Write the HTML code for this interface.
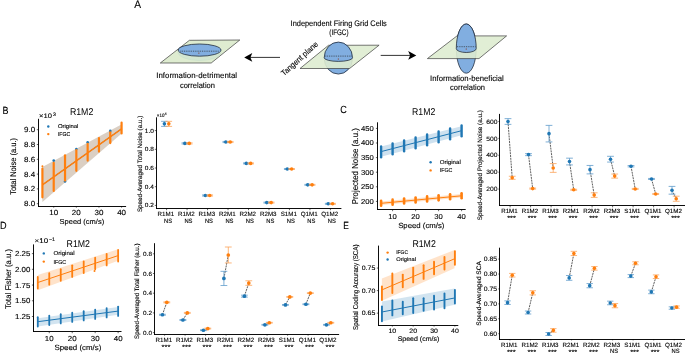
<!DOCTYPE html>
<html><head><meta charset="utf-8"><style>
html,body{margin:0;padding:0;background:#fff;overflow:hidden;}
svg{display:block;will-change:transform;text-rendering:geometricPrecision;}
text{stroke:#000;stroke-width:0.12px;font-family:"Liberation Sans", sans-serif;}
</style></head><body>
<svg width="685" height="353" viewBox="0 0 685 353">
<rect width="685" height="353" fill="#fff"/>
<text x="134.20" y="7.60" font-size="10.80" textLength="6.80" lengthAdjust="spacingAndGlyphs">A</text>
<polygon points="189.40,40.30 239.80,40.00 211.20,63.00 160.30,63.00" fill="#deecd0" stroke="#3c3c3c" stroke-width="0.7" stroke-linejoin="round"/>
<ellipse cx="199.6" cy="52.2" rx="21.5" ry="8.3" fill="#d3e6d1" stroke="#c5dcc8" stroke-width="0.5"/>
<ellipse cx="199.6" cy="50.1" rx="21.4" ry="6.1" fill="#81aee0" stroke="#1c2635" stroke-width="0.75"/>
<line x1="180.40" y1="51.20" x2="218.80" y2="51.20" stroke="#222" stroke-width="0.7" stroke-dasharray="0.9 0.9"/>
<rect x="198.3" y="52.6" width="1.1" height="1.1" fill="#8a4a3a"/>
<ellipse cx="338.35" cy="58.3" rx="14.15" ry="15.75" fill="#81aee0" stroke="#1c2635" stroke-width="0.75"/>
<polygon points="328.50,45.30 379.10,45.20 349.60,68.50 300.00,68.50" fill="#deecd0" fill-opacity="0.9" stroke="#3c3c3c" stroke-width="0.7" stroke-linejoin="round"/>
<path d="M 324.20 57.80 A 14.15 15.75 0 0 1 352.50 57.80 A 14.15 3.6 0 0 1 324.20 57.80 Z" fill="#81aee0" stroke="#1c2635" stroke-width="0.75"/>
<line x1="325.40" y1="56.10" x2="351.40" y2="56.10" stroke="#222" stroke-width="0.7" stroke-dasharray="0.9 0.9"/>
<rect x="337.8" y="58.5" width="1.1" height="1.1" fill="#8a4a3a"/>
<ellipse cx="466.25" cy="48.6" rx="9.95" ry="24.6" fill="#81aee0" stroke="#1c2635" stroke-width="0.75"/>
<polygon points="457.00,35.90 506.60,35.90 479.00,58.60 427.40,58.60" fill="#deecd0" fill-opacity="0.9" stroke="#3c3c3c" stroke-width="0.7" stroke-linejoin="round"/>
<path d="M 456.30 48.60 A 9.95 24.6 0 0 1 476.20 48.60 A 9.95 3.9 0 0 1 456.30 48.60 Z" fill="#81aee0" stroke="#1c2635" stroke-width="0.75"/>
<line x1="457.00" y1="46.70" x2="475.50" y2="46.70" stroke="#222" stroke-width="0.7" stroke-dasharray="0.9 0.9"/>
<rect x="465.7" y="48.5" width="1.1" height="1.1" fill="#8a4a3a"/>
<line x1="250.00" y1="57.40" x2="280.00" y2="57.40" stroke="#111" stroke-width="0.85"/>
<polygon points="244.20,57.40 252.30,53.10 250.40,57.40 252.30,61.80" fill="#000"/>
<line x1="380.70" y1="55.40" x2="410.00" y2="55.40" stroke="#111" stroke-width="0.85"/>
<polygon points="416.30,55.40 408.20,51.10 410.10,55.40 408.20,59.80" fill="#000"/>
<text x="290.60" y="26.10" font-size="8.00" textLength="96.20" lengthAdjust="spacingAndGlyphs">Independent Firing Grid Cells</text>
<text x="338.90" y="34.90" font-size="8.00" text-anchor="middle" textLength="19.20" lengthAdjust="spacingAndGlyphs">(IFGC)</text>
<text x="156.30" y="77.80" font-size="8.00" textLength="80.80" lengthAdjust="spacingAndGlyphs">Information-detrimental</text>
<text x="197.40" y="87.60" font-size="8.00" text-anchor="middle" textLength="35.00" lengthAdjust="spacingAndGlyphs">correlation</text>
<text x="430.10" y="80.80" font-size="8.00" textLength="73.70" lengthAdjust="spacingAndGlyphs">Information-beneficial</text>
<text x="467.50" y="89.80" font-size="8.00" text-anchor="middle" textLength="35.00" lengthAdjust="spacingAndGlyphs">correlation</text>
<text x="0" y="0" font-size="8.00" textLength="46.50" lengthAdjust="spacingAndGlyphs" transform="translate(284.00,76.20) rotate(-42)">Tangent plane</text>
<text x="2.40" y="113.50" font-size="10.40" textLength="6.00" lengthAdjust="spacingAndGlyphs">B</text>
<polygon points="42.40,167.00 121.90,124.20 121.90,133.20 42.40,202.00" fill="#1f77b4" fill-opacity="0.2"/>
<polygon points="42.40,167.00 121.90,124.20 121.90,133.20 42.40,202.00" fill="#ff7f0e" fill-opacity="0.2"/>
<circle cx="53.72" cy="160.60" r="1.30" fill="#1f77b4"/>
<circle cx="65.03" cy="181.50" r="1.30" fill="#1f77b4"/>
<circle cx="76.34" cy="149.00" r="1.30" fill="#1f77b4"/>
<circle cx="87.65" cy="142.30" r="1.30" fill="#1f77b4"/>
<circle cx="110.27" cy="130.90" r="1.30" fill="#1f77b4"/>
<line x1="42.40" y1="184.90" x2="121.90" y2="128.60" stroke="#1f77b4" stroke-width="1.0"/>
<line x1="42.41" y1="168.70" x2="42.41" y2="197.30" stroke="#ff7f0e" stroke-width="2.2" stroke-linecap="round"/>
<line x1="53.72" y1="162.80" x2="53.72" y2="190.90" stroke="#ff7f0e" stroke-width="2.2" stroke-linecap="round"/>
<line x1="65.03" y1="155.30" x2="65.03" y2="180.60" stroke="#ff7f0e" stroke-width="2.2" stroke-linecap="round"/>
<line x1="76.34" y1="150.00" x2="76.34" y2="170.80" stroke="#ff7f0e" stroke-width="2.2" stroke-linecap="round"/>
<line x1="87.65" y1="143.90" x2="87.65" y2="160.60" stroke="#ff7f0e" stroke-width="2.2" stroke-linecap="round"/>
<line x1="98.96" y1="138.00" x2="98.96" y2="151.60" stroke="#ff7f0e" stroke-width="2.2" stroke-linecap="round"/>
<line x1="110.27" y1="132.30" x2="110.27" y2="143.10" stroke="#ff7f0e" stroke-width="2.2" stroke-linecap="round"/>
<line x1="121.58" y1="122.70" x2="121.58" y2="133.40" stroke="#ff7f0e" stroke-width="2.2" stroke-linecap="round"/>
<circle cx="42.41" cy="166.20" r="1.00" fill="#ff7f0e"/>
<circle cx="110.27" cy="142.30" r="1.00" fill="#ff7f0e"/>
<line x1="42.40" y1="184.90" x2="121.90" y2="128.60" stroke="#ff7f0e" stroke-width="1.4"/>
<line x1="38.50" y1="118.80" x2="38.50" y2="207.00" stroke="#000" stroke-width="0.95"/>
<line x1="38.00" y1="206.50" x2="126.10" y2="206.50" stroke="#000" stroke-width="0.95"/>
<line x1="36.80" y1="203.70" x2="38.40" y2="203.70" stroke="#000" stroke-width="0.6"/>
<text x="35.10" y="206.22" font-size="7.42" text-anchor="end" textLength="11.13" lengthAdjust="spacingAndGlyphs">8.0</text>
<line x1="36.80" y1="188.90" x2="38.40" y2="188.90" stroke="#000" stroke-width="0.6"/>
<text x="35.10" y="191.42" font-size="7.42" text-anchor="end" textLength="11.13" lengthAdjust="spacingAndGlyphs">8.2</text>
<line x1="36.80" y1="174.10" x2="38.40" y2="174.10" stroke="#000" stroke-width="0.6"/>
<text x="35.10" y="176.62" font-size="7.42" text-anchor="end" textLength="11.13" lengthAdjust="spacingAndGlyphs">8.4</text>
<line x1="36.80" y1="159.30" x2="38.40" y2="159.30" stroke="#000" stroke-width="0.6"/>
<text x="35.10" y="161.82" font-size="7.42" text-anchor="end" textLength="11.13" lengthAdjust="spacingAndGlyphs">8.6</text>
<line x1="36.80" y1="144.50" x2="38.40" y2="144.50" stroke="#000" stroke-width="0.6"/>
<text x="35.10" y="147.02" font-size="7.42" text-anchor="end" textLength="11.13" lengthAdjust="spacingAndGlyphs">8.8</text>
<line x1="36.80" y1="129.70" x2="38.40" y2="129.70" stroke="#000" stroke-width="0.6"/>
<text x="35.10" y="132.22" font-size="7.42" text-anchor="end" textLength="11.13" lengthAdjust="spacingAndGlyphs">9.0</text>
<line x1="53.72" y1="206.10" x2="53.72" y2="207.70" stroke="#000" stroke-width="0.6"/>
<text x="53.72" y="214.80" font-size="7.42" text-anchor="middle" textLength="8.91" lengthAdjust="spacingAndGlyphs">10</text>
<line x1="76.34" y1="206.10" x2="76.34" y2="207.70" stroke="#000" stroke-width="0.6"/>
<text x="76.34" y="214.80" font-size="7.42" text-anchor="middle" textLength="8.91" lengthAdjust="spacingAndGlyphs">20</text>
<line x1="98.96" y1="206.10" x2="98.96" y2="207.70" stroke="#000" stroke-width="0.6"/>
<text x="98.96" y="214.80" font-size="7.42" text-anchor="middle" textLength="8.91" lengthAdjust="spacingAndGlyphs">30</text>
<line x1="121.58" y1="206.10" x2="121.58" y2="207.70" stroke="#000" stroke-width="0.6"/>
<text x="121.58" y="214.80" font-size="7.42" text-anchor="middle" textLength="8.91" lengthAdjust="spacingAndGlyphs">40</text>
<text x="81.90" y="224.00" font-size="7.16" text-anchor="middle" textLength="44.65" lengthAdjust="spacingAndGlyphs">Speed (cm/s)</text>
<text x="0" y="0" font-size="8.20" text-anchor="middle" textLength="56.60" lengthAdjust="spacingAndGlyphs" transform="translate(15.60,166.40) rotate(-90)">Total Noise (a.u.)</text>
<text x="81.60" y="115.00" font-size="9.90" text-anchor="middle" textLength="23.40" lengthAdjust="spacingAndGlyphs" style="stroke:none">R1M2</text>
<text x="39.00" y="117.70" font-size="6.57" textLength="12.90" lengthAdjust="spacingAndGlyphs">×10</text>
<text x="53.00" y="115.60" font-size="4.88" textLength="2.93" lengthAdjust="spacingAndGlyphs">3</text>
<circle cx="48.30" cy="126.50" r="1.20" fill="#1f77b4"/>
<text x="57.90" y="128.39" font-size="5.57" textLength="20.54" lengthAdjust="spacingAndGlyphs">Original</text>
<circle cx="48.30" cy="134.10" r="1.20" fill="#ff7f0e"/>
<text x="57.90" y="135.99" font-size="5.57" textLength="12.30" lengthAdjust="spacingAndGlyphs">IFGC</text>
<line x1="164.40" y1="121.34" x2="164.40" y2="126.39" stroke="#5f9ccb" stroke-width="0.8"/>
<line x1="161.10" y1="121.34" x2="167.70" y2="121.34" stroke="#5f9ccb" stroke-width="0.8"/>
<line x1="161.10" y1="126.39" x2="167.70" y2="126.39" stroke="#5f9ccb" stroke-width="0.8"/>
<circle cx="164.40" cy="123.87" r="1.80" fill="#1f77b4"/>
<line x1="168.80" y1="121.34" x2="168.80" y2="126.39" stroke="#fba35a" stroke-width="0.8"/>
<line x1="165.50" y1="121.34" x2="172.10" y2="121.34" stroke="#fba35a" stroke-width="0.8"/>
<line x1="165.50" y1="126.39" x2="172.10" y2="126.39" stroke="#fba35a" stroke-width="0.8"/>
<circle cx="168.80" cy="123.87" r="1.80" fill="#ff7f0e"/>
<line x1="184.88" y1="142.85" x2="184.88" y2="143.97" stroke="#5f9ccb" stroke-width="0.8"/>
<line x1="181.57" y1="142.85" x2="188.18" y2="142.85" stroke="#5f9ccb" stroke-width="0.8"/>
<line x1="181.57" y1="143.97" x2="188.18" y2="143.97" stroke="#5f9ccb" stroke-width="0.8"/>
<circle cx="184.88" cy="143.41" r="1.80" fill="#1f77b4"/>
<line x1="189.27" y1="142.85" x2="189.27" y2="143.97" stroke="#fba35a" stroke-width="0.8"/>
<line x1="185.97" y1="142.85" x2="192.57" y2="142.85" stroke="#fba35a" stroke-width="0.8"/>
<line x1="185.97" y1="143.97" x2="192.57" y2="143.97" stroke="#fba35a" stroke-width="0.8"/>
<circle cx="189.27" cy="143.41" r="1.80" fill="#ff7f0e"/>
<line x1="205.35" y1="194.93" x2="205.35" y2="196.05" stroke="#5f9ccb" stroke-width="0.8"/>
<line x1="202.05" y1="194.93" x2="208.65" y2="194.93" stroke="#5f9ccb" stroke-width="0.8"/>
<line x1="202.05" y1="196.05" x2="208.65" y2="196.05" stroke="#5f9ccb" stroke-width="0.8"/>
<circle cx="205.35" cy="195.49" r="1.80" fill="#1f77b4"/>
<line x1="209.75" y1="194.93" x2="209.75" y2="196.05" stroke="#fba35a" stroke-width="0.8"/>
<line x1="206.45" y1="194.93" x2="213.05" y2="194.93" stroke="#fba35a" stroke-width="0.8"/>
<line x1="206.45" y1="196.05" x2="213.05" y2="196.05" stroke="#fba35a" stroke-width="0.8"/>
<circle cx="209.75" cy="195.49" r="1.80" fill="#ff7f0e"/>
<line x1="225.83" y1="141.45" x2="225.83" y2="142.57" stroke="#5f9ccb" stroke-width="0.8"/>
<line x1="222.53" y1="141.45" x2="229.13" y2="141.45" stroke="#5f9ccb" stroke-width="0.8"/>
<line x1="222.53" y1="142.57" x2="229.13" y2="142.57" stroke="#5f9ccb" stroke-width="0.8"/>
<circle cx="225.83" cy="142.01" r="1.80" fill="#1f77b4"/>
<line x1="230.22" y1="141.45" x2="230.22" y2="142.57" stroke="#fba35a" stroke-width="0.8"/>
<line x1="226.92" y1="141.45" x2="233.53" y2="141.45" stroke="#fba35a" stroke-width="0.8"/>
<line x1="226.92" y1="142.57" x2="233.53" y2="142.57" stroke="#fba35a" stroke-width="0.8"/>
<circle cx="230.22" cy="142.01" r="1.80" fill="#ff7f0e"/>
<line x1="246.30" y1="162.95" x2="246.30" y2="163.89" stroke="#5f9ccb" stroke-width="0.8"/>
<line x1="243.00" y1="162.95" x2="249.60" y2="162.95" stroke="#5f9ccb" stroke-width="0.8"/>
<line x1="243.00" y1="163.89" x2="249.60" y2="163.89" stroke="#5f9ccb" stroke-width="0.8"/>
<circle cx="246.30" cy="163.42" r="1.80" fill="#1f77b4"/>
<line x1="250.70" y1="162.95" x2="250.70" y2="163.89" stroke="#fba35a" stroke-width="0.8"/>
<line x1="247.40" y1="162.95" x2="254.00" y2="162.95" stroke="#fba35a" stroke-width="0.8"/>
<line x1="247.40" y1="163.89" x2="254.00" y2="163.89" stroke="#fba35a" stroke-width="0.8"/>
<circle cx="250.70" cy="163.42" r="1.80" fill="#ff7f0e"/>
<line x1="266.78" y1="202.13" x2="266.78" y2="203.06" stroke="#5f9ccb" stroke-width="0.8"/>
<line x1="263.48" y1="202.13" x2="270.08" y2="202.13" stroke="#5f9ccb" stroke-width="0.8"/>
<line x1="263.48" y1="203.06" x2="270.08" y2="203.06" stroke="#5f9ccb" stroke-width="0.8"/>
<circle cx="266.78" cy="202.59" r="1.80" fill="#1f77b4"/>
<line x1="271.18" y1="202.13" x2="271.18" y2="203.06" stroke="#fba35a" stroke-width="0.8"/>
<line x1="267.88" y1="202.13" x2="274.48" y2="202.13" stroke="#fba35a" stroke-width="0.8"/>
<line x1="267.88" y1="203.06" x2="274.48" y2="203.06" stroke="#fba35a" stroke-width="0.8"/>
<circle cx="271.18" cy="202.59" r="1.80" fill="#ff7f0e"/>
<line x1="287.25" y1="168.56" x2="287.25" y2="169.50" stroke="#5f9ccb" stroke-width="0.8"/>
<line x1="283.95" y1="168.56" x2="290.55" y2="168.56" stroke="#5f9ccb" stroke-width="0.8"/>
<line x1="283.95" y1="169.50" x2="290.55" y2="169.50" stroke="#5f9ccb" stroke-width="0.8"/>
<circle cx="287.25" cy="169.03" r="1.80" fill="#1f77b4"/>
<line x1="291.65" y1="168.56" x2="291.65" y2="169.50" stroke="#fba35a" stroke-width="0.8"/>
<line x1="288.35" y1="168.56" x2="294.95" y2="168.56" stroke="#fba35a" stroke-width="0.8"/>
<line x1="288.35" y1="169.50" x2="294.95" y2="169.50" stroke="#fba35a" stroke-width="0.8"/>
<circle cx="291.65" cy="169.03" r="1.80" fill="#ff7f0e"/>
<line x1="307.73" y1="184.36" x2="307.73" y2="185.30" stroke="#5f9ccb" stroke-width="0.8"/>
<line x1="304.43" y1="184.36" x2="311.03" y2="184.36" stroke="#5f9ccb" stroke-width="0.8"/>
<line x1="304.43" y1="185.30" x2="311.03" y2="185.30" stroke="#5f9ccb" stroke-width="0.8"/>
<circle cx="307.73" cy="184.83" r="1.80" fill="#1f77b4"/>
<line x1="312.12" y1="184.36" x2="312.12" y2="185.30" stroke="#fba35a" stroke-width="0.8"/>
<line x1="308.82" y1="184.36" x2="315.43" y2="184.36" stroke="#fba35a" stroke-width="0.8"/>
<line x1="308.82" y1="185.30" x2="315.43" y2="185.30" stroke="#fba35a" stroke-width="0.8"/>
<circle cx="312.12" cy="184.83" r="1.80" fill="#ff7f0e"/>
<line x1="328.20" y1="203.34" x2="328.20" y2="204.28" stroke="#5f9ccb" stroke-width="0.8"/>
<line x1="324.90" y1="203.34" x2="331.50" y2="203.34" stroke="#5f9ccb" stroke-width="0.8"/>
<line x1="324.90" y1="204.28" x2="331.50" y2="204.28" stroke="#5f9ccb" stroke-width="0.8"/>
<circle cx="328.20" cy="203.81" r="1.80" fill="#1f77b4"/>
<line x1="332.60" y1="203.34" x2="332.60" y2="204.28" stroke="#fba35a" stroke-width="0.8"/>
<line x1="329.30" y1="203.34" x2="335.90" y2="203.34" stroke="#fba35a" stroke-width="0.8"/>
<line x1="329.30" y1="204.28" x2="335.90" y2="204.28" stroke="#fba35a" stroke-width="0.8"/>
<circle cx="332.60" cy="203.81" r="1.80" fill="#ff7f0e"/>
<line x1="156.50" y1="117.30" x2="156.50" y2="209.00" stroke="#000" stroke-width="0.95"/>
<line x1="156.00" y1="208.50" x2="341.40" y2="208.50" stroke="#000" stroke-width="0.95"/>
<line x1="154.80" y1="205.40" x2="156.20" y2="205.40" stroke="#000" stroke-width="0.6"/>
<text x="153.90" y="207.45" font-size="6.04" text-anchor="end" textLength="9.07" lengthAdjust="spacingAndGlyphs">0.2</text>
<line x1="154.80" y1="186.70" x2="156.20" y2="186.70" stroke="#000" stroke-width="0.6"/>
<text x="153.90" y="188.75" font-size="6.04" text-anchor="end" textLength="9.07" lengthAdjust="spacingAndGlyphs">0.4</text>
<line x1="154.80" y1="168.00" x2="156.20" y2="168.00" stroke="#000" stroke-width="0.6"/>
<text x="153.90" y="170.05" font-size="6.04" text-anchor="end" textLength="9.07" lengthAdjust="spacingAndGlyphs">0.6</text>
<line x1="154.80" y1="149.30" x2="156.20" y2="149.30" stroke="#000" stroke-width="0.6"/>
<text x="153.90" y="151.35" font-size="6.04" text-anchor="end" textLength="9.07" lengthAdjust="spacingAndGlyphs">0.8</text>
<line x1="154.80" y1="130.60" x2="156.20" y2="130.60" stroke="#000" stroke-width="0.6"/>
<text x="153.90" y="132.65" font-size="6.04" text-anchor="end" textLength="9.07" lengthAdjust="spacingAndGlyphs">1.0</text>
<line x1="166.60" y1="208.80" x2="166.60" y2="210.20" stroke="#000" stroke-width="0.6"/>
<text x="165.90" y="215.70" font-size="6.20" text-anchor="middle" textLength="16.56" lengthAdjust="spacingAndGlyphs">R1M1</text>
<text x="168.00" y="222.63" font-size="6.20" text-anchor="middle" textLength="8.09" lengthAdjust="spacingAndGlyphs">NS</text>
<line x1="187.07" y1="208.80" x2="187.07" y2="210.20" stroke="#000" stroke-width="0.6"/>
<text x="186.38" y="215.70" font-size="6.20" text-anchor="middle" textLength="16.56" lengthAdjust="spacingAndGlyphs">R1M2</text>
<text x="188.47" y="222.63" font-size="6.20" text-anchor="middle" textLength="8.09" lengthAdjust="spacingAndGlyphs">NS</text>
<line x1="207.55" y1="208.80" x2="207.55" y2="210.20" stroke="#000" stroke-width="0.6"/>
<text x="206.85" y="215.70" font-size="6.20" text-anchor="middle" textLength="16.56" lengthAdjust="spacingAndGlyphs">R1M3</text>
<text x="208.95" y="222.63" font-size="6.20" text-anchor="middle" textLength="8.09" lengthAdjust="spacingAndGlyphs">NS</text>
<line x1="228.03" y1="208.80" x2="228.03" y2="210.20" stroke="#000" stroke-width="0.6"/>
<text x="227.33" y="215.70" font-size="6.20" text-anchor="middle" textLength="16.56" lengthAdjust="spacingAndGlyphs">R2M1</text>
<text x="229.43" y="222.63" font-size="6.20" text-anchor="middle" textLength="8.09" lengthAdjust="spacingAndGlyphs">NS</text>
<line x1="248.50" y1="208.80" x2="248.50" y2="210.20" stroke="#000" stroke-width="0.6"/>
<text x="247.80" y="215.70" font-size="6.20" text-anchor="middle" textLength="16.56" lengthAdjust="spacingAndGlyphs">R2M2</text>
<text x="249.90" y="222.63" font-size="6.20" text-anchor="middle" textLength="8.09" lengthAdjust="spacingAndGlyphs">NS</text>
<line x1="268.98" y1="208.80" x2="268.98" y2="210.20" stroke="#000" stroke-width="0.6"/>
<text x="268.28" y="215.70" font-size="6.20" text-anchor="middle" textLength="16.56" lengthAdjust="spacingAndGlyphs">R2M3</text>
<text x="270.38" y="222.63" font-size="6.20" text-anchor="middle" textLength="8.09" lengthAdjust="spacingAndGlyphs">NS</text>
<line x1="289.45" y1="208.80" x2="289.45" y2="210.20" stroke="#000" stroke-width="0.6"/>
<text x="288.75" y="215.70" font-size="6.20" text-anchor="middle" textLength="16.20" lengthAdjust="spacingAndGlyphs">S1M1</text>
<text x="290.85" y="222.63" font-size="6.20" text-anchor="middle" textLength="8.09" lengthAdjust="spacingAndGlyphs">NS</text>
<line x1="309.93" y1="208.80" x2="309.93" y2="210.20" stroke="#000" stroke-width="0.6"/>
<text x="309.23" y="215.70" font-size="6.20" text-anchor="middle" textLength="17.10" lengthAdjust="spacingAndGlyphs">Q1M1</text>
<text x="311.32" y="222.63" font-size="6.20" text-anchor="middle" textLength="8.09" lengthAdjust="spacingAndGlyphs">NS</text>
<line x1="330.40" y1="208.80" x2="330.40" y2="210.20" stroke="#000" stroke-width="0.6"/>
<text x="329.70" y="215.70" font-size="6.20" text-anchor="middle" textLength="17.10" lengthAdjust="spacingAndGlyphs">Q1M2</text>
<text x="331.80" y="222.63" font-size="6.20" text-anchor="middle" textLength="8.09" lengthAdjust="spacingAndGlyphs">NS</text>
<text x="0" y="0" font-size="6.40" text-anchor="middle" textLength="96.40" lengthAdjust="spacingAndGlyphs" transform="translate(142.00,163.90) rotate(-90)">Speed-Averaged Total Noise (a.u.)</text>
<text x="156.80" y="116.80" font-size="4.88" textLength="7.60" lengthAdjust="spacingAndGlyphs">×10</text>
<text x="164.60" y="114.90" font-size="3.60" textLength="2.16" lengthAdjust="spacingAndGlyphs">4</text>
<text x="340.30" y="112.70" font-size="10.40" textLength="6.60" lengthAdjust="spacingAndGlyphs">C</text>
<polygon points="381.10,146.60 461.60,126.30 461.60,135.30 381.10,156.80" fill="#1f77b4" fill-opacity="0.22"/>
<polygon points="381.10,201.60 461.60,194.00 461.60,197.60 381.10,205.00" fill="#ff7f0e" fill-opacity="0.25"/>
<line x1="381.10" y1="146.40" x2="381.10" y2="157.20" stroke="#1f77b4" stroke-width="2.4" stroke-linecap="round"/>
<line x1="392.60" y1="143.41" x2="392.60" y2="154.21" stroke="#1f77b4" stroke-width="2.4" stroke-linecap="round"/>
<line x1="404.10" y1="140.43" x2="404.10" y2="151.23" stroke="#1f77b4" stroke-width="2.4" stroke-linecap="round"/>
<line x1="415.60" y1="137.44" x2="415.60" y2="148.24" stroke="#1f77b4" stroke-width="2.4" stroke-linecap="round"/>
<line x1="427.10" y1="134.46" x2="427.10" y2="145.26" stroke="#1f77b4" stroke-width="2.4" stroke-linecap="round"/>
<line x1="438.60" y1="131.47" x2="438.60" y2="142.27" stroke="#1f77b4" stroke-width="2.4" stroke-linecap="round"/>
<line x1="450.10" y1="128.49" x2="450.10" y2="139.29" stroke="#1f77b4" stroke-width="2.4" stroke-linecap="round"/>
<line x1="461.60" y1="125.50" x2="461.60" y2="136.30" stroke="#1f77b4" stroke-width="2.4" stroke-linecap="round"/>
<line x1="381.10" y1="151.60" x2="461.60" y2="130.70" stroke="#1f77b4" stroke-width="1.0"/>
<line x1="381.10" y1="200.70" x2="381.10" y2="205.70" stroke="#ff7f0e" stroke-width="2.6" stroke-linecap="round"/>
<line x1="392.60" y1="199.63" x2="392.60" y2="204.63" stroke="#ff7f0e" stroke-width="2.6" stroke-linecap="round"/>
<line x1="404.10" y1="198.56" x2="404.10" y2="203.56" stroke="#ff7f0e" stroke-width="2.6" stroke-linecap="round"/>
<line x1="415.60" y1="197.49" x2="415.60" y2="202.49" stroke="#ff7f0e" stroke-width="2.6" stroke-linecap="round"/>
<line x1="427.10" y1="196.41" x2="427.10" y2="201.41" stroke="#ff7f0e" stroke-width="2.6" stroke-linecap="round"/>
<line x1="438.60" y1="195.34" x2="438.60" y2="200.34" stroke="#ff7f0e" stroke-width="2.6" stroke-linecap="round"/>
<line x1="450.10" y1="194.27" x2="450.10" y2="199.27" stroke="#ff7f0e" stroke-width="2.6" stroke-linecap="round"/>
<line x1="461.60" y1="193.20" x2="461.60" y2="198.20" stroke="#ff7f0e" stroke-width="2.6" stroke-linecap="round"/>
<line x1="381.10" y1="203.30" x2="461.60" y2="195.80" stroke="#ff7f0e" stroke-width="1.0"/>
<line x1="377.50" y1="122.30" x2="377.50" y2="210.00" stroke="#000" stroke-width="0.95"/>
<line x1="377.00" y1="209.50" x2="465.70" y2="209.50" stroke="#000" stroke-width="0.95"/>
<line x1="375.90" y1="201.40" x2="377.50" y2="201.40" stroke="#000" stroke-width="0.6"/>
<text x="373.80" y="203.81" font-size="7.10" text-anchor="end" textLength="12.79" lengthAdjust="spacingAndGlyphs">200</text>
<line x1="375.90" y1="186.80" x2="377.50" y2="186.80" stroke="#000" stroke-width="0.6"/>
<text x="373.80" y="189.21" font-size="7.10" text-anchor="end" textLength="12.79" lengthAdjust="spacingAndGlyphs">250</text>
<line x1="375.90" y1="172.20" x2="377.50" y2="172.20" stroke="#000" stroke-width="0.6"/>
<text x="373.80" y="174.61" font-size="7.10" text-anchor="end" textLength="12.79" lengthAdjust="spacingAndGlyphs">300</text>
<line x1="375.90" y1="157.60" x2="377.50" y2="157.60" stroke="#000" stroke-width="0.6"/>
<text x="373.80" y="160.01" font-size="7.10" text-anchor="end" textLength="12.79" lengthAdjust="spacingAndGlyphs">350</text>
<line x1="375.90" y1="143.00" x2="377.50" y2="143.00" stroke="#000" stroke-width="0.6"/>
<text x="373.80" y="145.41" font-size="7.10" text-anchor="end" textLength="12.79" lengthAdjust="spacingAndGlyphs">400</text>
<line x1="375.90" y1="128.40" x2="377.50" y2="128.40" stroke="#000" stroke-width="0.6"/>
<text x="373.80" y="130.81" font-size="7.10" text-anchor="end" textLength="12.79" lengthAdjust="spacingAndGlyphs">450</text>
<line x1="392.60" y1="209.60" x2="392.60" y2="211.20" stroke="#000" stroke-width="0.6"/>
<text x="392.60" y="218.60" font-size="7.10" text-anchor="middle" textLength="8.53" lengthAdjust="spacingAndGlyphs">10</text>
<line x1="415.60" y1="209.60" x2="415.60" y2="211.20" stroke="#000" stroke-width="0.6"/>
<text x="415.60" y="218.60" font-size="7.10" text-anchor="middle" textLength="8.53" lengthAdjust="spacingAndGlyphs">20</text>
<line x1="438.60" y1="209.60" x2="438.60" y2="211.20" stroke="#000" stroke-width="0.6"/>
<text x="438.60" y="218.60" font-size="7.10" text-anchor="middle" textLength="8.53" lengthAdjust="spacingAndGlyphs">30</text>
<line x1="461.60" y1="209.60" x2="461.60" y2="211.20" stroke="#000" stroke-width="0.6"/>
<text x="461.60" y="218.60" font-size="7.10" text-anchor="middle" textLength="8.53" lengthAdjust="spacingAndGlyphs">40</text>
<text x="421.30" y="227.60" font-size="7.42" text-anchor="middle" textLength="46.30" lengthAdjust="spacingAndGlyphs">Speed (cm/s)</text>
<text x="0" y="0" font-size="8.60" text-anchor="middle" textLength="76.10" lengthAdjust="spacingAndGlyphs" transform="translate(358.00,166.20) rotate(-90)">Projected Noise (a.u.)</text>
<text x="423.70" y="114.80" font-size="9.90" text-anchor="middle" textLength="23.20" lengthAdjust="spacingAndGlyphs" style="stroke:none">R1M2</text>
<circle cx="430.60" cy="162.20" r="1.20" fill="#1f77b4"/>
<text x="439.70" y="164.14" font-size="5.72" textLength="21.13" lengthAdjust="spacingAndGlyphs">Original</text>
<circle cx="430.60" cy="170.40" r="1.20" fill="#ff7f0e"/>
<text x="439.70" y="172.34" font-size="5.72" textLength="12.65" lengthAdjust="spacingAndGlyphs">IFGC</text>
<line x1="508.00" y1="121.50" x2="512.20" y2="177.78" stroke="#1a1a1a" stroke-width="0.7" stroke-dasharray="2.0 0.8"/>
<line x1="528.50" y1="154.62" x2="532.70" y2="188.59" stroke="#1a1a1a" stroke-width="0.7" stroke-dasharray="2.0 0.8"/>
<line x1="549.00" y1="133.67" x2="553.20" y2="167.97" stroke="#1a1a1a" stroke-width="0.7" stroke-dasharray="2.0 0.8"/>
<line x1="569.50" y1="161.55" x2="573.70" y2="189.78" stroke="#1a1a1a" stroke-width="0.7" stroke-dasharray="2.0 0.8"/>
<line x1="590.00" y1="169.66" x2="594.20" y2="195.10" stroke="#1a1a1a" stroke-width="0.7" stroke-dasharray="2.0 0.8"/>
<line x1="610.50" y1="159.19" x2="614.70" y2="176.09" stroke="#1a1a1a" stroke-width="0.7" stroke-dasharray="2.0 0.8"/>
<line x1="631.00" y1="166.20" x2="635.20" y2="188.93" stroke="#1a1a1a" stroke-width="0.7" stroke-dasharray="2.0 0.8"/>
<line x1="651.50" y1="178.96" x2="655.70" y2="194.00" stroke="#1a1a1a" stroke-width="0.7" stroke-dasharray="2.0 0.8"/>
<line x1="672.00" y1="190.28" x2="676.20" y2="198.73" stroke="#1a1a1a" stroke-width="0.7" stroke-dasharray="2.0 0.8"/>
<line x1="508.00" y1="118.63" x2="508.00" y2="124.37" stroke="#5f9ccb" stroke-width="0.8"/>
<line x1="504.60" y1="118.63" x2="511.40" y2="118.63" stroke="#5f9ccb" stroke-width="0.8"/>
<line x1="504.60" y1="124.37" x2="511.40" y2="124.37" stroke="#5f9ccb" stroke-width="0.8"/>
<circle cx="508.00" cy="121.50" r="1.80" fill="#1f77b4"/>
<line x1="512.20" y1="176.26" x2="512.20" y2="179.30" stroke="#fba35a" stroke-width="0.8"/>
<line x1="508.80" y1="176.26" x2="515.60" y2="176.26" stroke="#fba35a" stroke-width="0.8"/>
<line x1="508.80" y1="179.30" x2="515.60" y2="179.30" stroke="#fba35a" stroke-width="0.8"/>
<circle cx="512.20" cy="177.78" r="1.80" fill="#ff7f0e"/>
<line x1="528.50" y1="153.61" x2="528.50" y2="155.64" stroke="#5f9ccb" stroke-width="0.8"/>
<line x1="525.10" y1="153.61" x2="531.90" y2="153.61" stroke="#5f9ccb" stroke-width="0.8"/>
<line x1="525.10" y1="155.64" x2="531.90" y2="155.64" stroke="#5f9ccb" stroke-width="0.8"/>
<circle cx="528.50" cy="154.62" r="1.80" fill="#1f77b4"/>
<line x1="532.70" y1="188.09" x2="532.70" y2="189.10" stroke="#fba35a" stroke-width="0.8"/>
<line x1="529.30" y1="188.09" x2="536.10" y2="188.09" stroke="#fba35a" stroke-width="0.8"/>
<line x1="529.30" y1="189.10" x2="536.10" y2="189.10" stroke="#fba35a" stroke-width="0.8"/>
<circle cx="532.70" cy="188.59" r="1.80" fill="#ff7f0e"/>
<line x1="549.00" y1="125.39" x2="549.00" y2="141.95" stroke="#5f9ccb" stroke-width="0.8"/>
<line x1="545.60" y1="125.39" x2="552.40" y2="125.39" stroke="#5f9ccb" stroke-width="0.8"/>
<line x1="545.60" y1="141.95" x2="552.40" y2="141.95" stroke="#5f9ccb" stroke-width="0.8"/>
<circle cx="549.00" cy="133.67" r="1.80" fill="#1f77b4"/>
<line x1="553.20" y1="163.58" x2="553.20" y2="172.37" stroke="#fba35a" stroke-width="0.8"/>
<line x1="549.80" y1="163.58" x2="556.60" y2="163.58" stroke="#fba35a" stroke-width="0.8"/>
<line x1="549.80" y1="172.37" x2="556.60" y2="172.37" stroke="#fba35a" stroke-width="0.8"/>
<circle cx="553.20" cy="167.97" r="1.80" fill="#ff7f0e"/>
<line x1="569.50" y1="158.17" x2="569.50" y2="164.93" stroke="#5f9ccb" stroke-width="0.8"/>
<line x1="566.10" y1="158.17" x2="572.90" y2="158.17" stroke="#5f9ccb" stroke-width="0.8"/>
<line x1="566.10" y1="164.93" x2="572.90" y2="164.93" stroke="#5f9ccb" stroke-width="0.8"/>
<circle cx="569.50" cy="161.55" r="1.80" fill="#1f77b4"/>
<line x1="573.70" y1="189.27" x2="573.70" y2="190.28" stroke="#fba35a" stroke-width="0.8"/>
<line x1="570.30" y1="189.27" x2="577.10" y2="189.27" stroke="#fba35a" stroke-width="0.8"/>
<line x1="570.30" y1="190.28" x2="577.10" y2="190.28" stroke="#fba35a" stroke-width="0.8"/>
<circle cx="573.70" cy="189.78" r="1.80" fill="#ff7f0e"/>
<line x1="590.00" y1="165.44" x2="590.00" y2="173.89" stroke="#5f9ccb" stroke-width="0.8"/>
<line x1="586.60" y1="165.44" x2="593.40" y2="165.44" stroke="#5f9ccb" stroke-width="0.8"/>
<line x1="586.60" y1="173.89" x2="593.40" y2="173.89" stroke="#5f9ccb" stroke-width="0.8"/>
<circle cx="590.00" cy="169.66" r="1.80" fill="#1f77b4"/>
<line x1="594.20" y1="192.80" x2="594.20" y2="197.40" stroke="#fba35a" stroke-width="0.8"/>
<line x1="590.80" y1="192.80" x2="597.60" y2="192.80" stroke="#fba35a" stroke-width="0.8"/>
<line x1="590.80" y1="197.40" x2="597.60" y2="197.40" stroke="#fba35a" stroke-width="0.8"/>
<circle cx="594.20" cy="195.10" r="1.80" fill="#ff7f0e"/>
<line x1="610.50" y1="156.31" x2="610.50" y2="162.06" stroke="#5f9ccb" stroke-width="0.8"/>
<line x1="607.10" y1="156.31" x2="613.90" y2="156.31" stroke="#5f9ccb" stroke-width="0.8"/>
<line x1="607.10" y1="162.06" x2="613.90" y2="162.06" stroke="#5f9ccb" stroke-width="0.8"/>
<circle cx="610.50" cy="159.19" r="1.80" fill="#1f77b4"/>
<line x1="614.70" y1="174.06" x2="614.70" y2="178.11" stroke="#fba35a" stroke-width="0.8"/>
<line x1="611.30" y1="174.06" x2="618.10" y2="174.06" stroke="#fba35a" stroke-width="0.8"/>
<line x1="611.30" y1="178.11" x2="618.10" y2="178.11" stroke="#fba35a" stroke-width="0.8"/>
<circle cx="614.70" cy="176.09" r="1.80" fill="#ff7f0e"/>
<line x1="631.00" y1="165.52" x2="631.00" y2="166.88" stroke="#5f9ccb" stroke-width="0.8"/>
<line x1="627.60" y1="165.52" x2="634.40" y2="165.52" stroke="#5f9ccb" stroke-width="0.8"/>
<line x1="627.60" y1="166.88" x2="634.40" y2="166.88" stroke="#5f9ccb" stroke-width="0.8"/>
<circle cx="631.00" cy="166.20" r="1.80" fill="#1f77b4"/>
<line x1="635.20" y1="188.42" x2="635.20" y2="189.44" stroke="#fba35a" stroke-width="0.8"/>
<line x1="631.80" y1="188.42" x2="638.60" y2="188.42" stroke="#fba35a" stroke-width="0.8"/>
<line x1="631.80" y1="189.44" x2="638.60" y2="189.44" stroke="#fba35a" stroke-width="0.8"/>
<circle cx="635.20" cy="188.93" r="1.80" fill="#ff7f0e"/>
<line x1="651.50" y1="178.45" x2="651.50" y2="179.47" stroke="#5f9ccb" stroke-width="0.8"/>
<line x1="648.10" y1="178.45" x2="654.90" y2="178.45" stroke="#5f9ccb" stroke-width="0.8"/>
<line x1="648.10" y1="179.47" x2="654.90" y2="179.47" stroke="#5f9ccb" stroke-width="0.8"/>
<circle cx="651.50" cy="178.96" r="1.80" fill="#1f77b4"/>
<line x1="655.70" y1="193.49" x2="655.70" y2="194.51" stroke="#fba35a" stroke-width="0.8"/>
<line x1="652.30" y1="193.49" x2="659.10" y2="193.49" stroke="#fba35a" stroke-width="0.8"/>
<line x1="652.30" y1="194.51" x2="659.10" y2="194.51" stroke="#fba35a" stroke-width="0.8"/>
<circle cx="655.70" cy="194.00" r="1.80" fill="#ff7f0e"/>
<line x1="672.00" y1="186.40" x2="672.00" y2="194.17" stroke="#5f9ccb" stroke-width="0.8"/>
<line x1="668.60" y1="186.40" x2="675.40" y2="186.40" stroke="#5f9ccb" stroke-width="0.8"/>
<line x1="668.60" y1="194.17" x2="675.40" y2="194.17" stroke="#5f9ccb" stroke-width="0.8"/>
<circle cx="672.00" cy="190.28" r="1.80" fill="#1f77b4"/>
<line x1="676.20" y1="196.20" x2="676.20" y2="201.27" stroke="#fba35a" stroke-width="0.8"/>
<line x1="672.80" y1="196.20" x2="679.60" y2="196.20" stroke="#fba35a" stroke-width="0.8"/>
<line x1="672.80" y1="201.27" x2="679.60" y2="201.27" stroke="#fba35a" stroke-width="0.8"/>
<circle cx="676.20" cy="198.73" r="1.80" fill="#ff7f0e"/>
<line x1="499.50" y1="113.90" x2="499.50" y2="206.00" stroke="#000" stroke-width="0.95"/>
<line x1="499.00" y1="205.50" x2="685.00" y2="205.50" stroke="#000" stroke-width="0.95"/>
<line x1="498.40" y1="189.10" x2="499.80" y2="189.10" stroke="#000" stroke-width="0.6"/>
<text x="497.50" y="191.22" font-size="6.25" text-anchor="end" textLength="11.26" lengthAdjust="spacingAndGlyphs">200</text>
<line x1="498.40" y1="172.20" x2="499.80" y2="172.20" stroke="#000" stroke-width="0.6"/>
<text x="497.50" y="174.32" font-size="6.25" text-anchor="end" textLength="11.26" lengthAdjust="spacingAndGlyphs">300</text>
<line x1="498.40" y1="155.30" x2="499.80" y2="155.30" stroke="#000" stroke-width="0.6"/>
<text x="497.50" y="157.42" font-size="6.25" text-anchor="end" textLength="11.26" lengthAdjust="spacingAndGlyphs">400</text>
<line x1="498.40" y1="138.40" x2="499.80" y2="138.40" stroke="#000" stroke-width="0.6"/>
<text x="497.50" y="140.52" font-size="6.25" text-anchor="end" textLength="11.26" lengthAdjust="spacingAndGlyphs">500</text>
<line x1="498.40" y1="121.50" x2="499.80" y2="121.50" stroke="#000" stroke-width="0.6"/>
<text x="497.50" y="123.62" font-size="6.25" text-anchor="end" textLength="11.26" lengthAdjust="spacingAndGlyphs">600</text>
<line x1="510.10" y1="205.90" x2="510.10" y2="207.30" stroke="#000" stroke-width="0.6"/>
<text x="509.40" y="213.00" font-size="6.15" text-anchor="middle" textLength="16.41" lengthAdjust="spacingAndGlyphs">R1M1</text>
<text x="511.50" y="220.40" font-size="6.15" text-anchor="middle" textLength="8.70" lengthAdjust="spacingAndGlyphs">***</text>
<line x1="530.60" y1="205.90" x2="530.60" y2="207.30" stroke="#000" stroke-width="0.6"/>
<text x="529.90" y="213.00" font-size="6.15" text-anchor="middle" textLength="16.41" lengthAdjust="spacingAndGlyphs">R1M2</text>
<text x="532.00" y="220.40" font-size="6.15" text-anchor="middle" textLength="8.70" lengthAdjust="spacingAndGlyphs">***</text>
<line x1="551.10" y1="205.90" x2="551.10" y2="207.30" stroke="#000" stroke-width="0.6"/>
<text x="550.40" y="213.00" font-size="6.15" text-anchor="middle" textLength="16.41" lengthAdjust="spacingAndGlyphs">R1M3</text>
<text x="552.50" y="220.40" font-size="6.15" text-anchor="middle" textLength="8.70" lengthAdjust="spacingAndGlyphs">***</text>
<line x1="571.60" y1="205.90" x2="571.60" y2="207.30" stroke="#000" stroke-width="0.6"/>
<text x="570.90" y="213.00" font-size="6.15" text-anchor="middle" textLength="16.41" lengthAdjust="spacingAndGlyphs">R2M1</text>
<text x="573.00" y="220.40" font-size="6.15" text-anchor="middle" textLength="8.70" lengthAdjust="spacingAndGlyphs">***</text>
<line x1="592.10" y1="205.90" x2="592.10" y2="207.30" stroke="#000" stroke-width="0.6"/>
<text x="591.40" y="213.00" font-size="6.15" text-anchor="middle" textLength="16.41" lengthAdjust="spacingAndGlyphs">R2M2</text>
<text x="593.50" y="220.40" font-size="6.15" text-anchor="middle" textLength="8.70" lengthAdjust="spacingAndGlyphs">***</text>
<line x1="612.60" y1="205.90" x2="612.60" y2="207.30" stroke="#000" stroke-width="0.6"/>
<text x="611.90" y="213.00" font-size="6.15" text-anchor="middle" textLength="16.41" lengthAdjust="spacingAndGlyphs">R2M3</text>
<text x="614.00" y="220.40" font-size="6.15" text-anchor="middle" textLength="8.70" lengthAdjust="spacingAndGlyphs">***</text>
<line x1="633.10" y1="205.90" x2="633.10" y2="207.30" stroke="#000" stroke-width="0.6"/>
<text x="632.40" y="213.00" font-size="6.15" text-anchor="middle" textLength="16.07" lengthAdjust="spacingAndGlyphs">S1M1</text>
<text x="634.50" y="220.40" font-size="6.15" text-anchor="middle" textLength="8.70" lengthAdjust="spacingAndGlyphs">***</text>
<line x1="653.60" y1="205.90" x2="653.60" y2="207.30" stroke="#000" stroke-width="0.6"/>
<text x="652.90" y="213.00" font-size="6.15" text-anchor="middle" textLength="16.95" lengthAdjust="spacingAndGlyphs">Q1M1</text>
<text x="655.00" y="220.40" font-size="6.15" text-anchor="middle" textLength="8.70" lengthAdjust="spacingAndGlyphs">***</text>
<line x1="674.10" y1="205.90" x2="674.10" y2="207.30" stroke="#000" stroke-width="0.6"/>
<text x="673.40" y="213.00" font-size="6.15" text-anchor="middle" textLength="16.95" lengthAdjust="spacingAndGlyphs">Q1M2</text>
<text x="675.50" y="220.40" font-size="6.15" text-anchor="middle" textLength="8.70" lengthAdjust="spacingAndGlyphs">***</text>
<text x="0" y="0" font-size="6.40" text-anchor="middle" textLength="110.00" lengthAdjust="spacingAndGlyphs" transform="translate(481.90,165.20) rotate(-90)">Speed-Averaged Projected Noise (a.u.)</text>
<text x="0.00" y="228.80" font-size="10.40" textLength="6.60" lengthAdjust="spacingAndGlyphs">D</text>
<polygon points="37.80,318.20 118.10,307.10 118.10,314.70 37.80,326.40" fill="#1f77b4" fill-opacity="0.2"/>
<polygon points="37.80,275.10 118.10,249.20 118.10,260.80 37.80,290.20" fill="#ff7f0e" fill-opacity="0.22"/>
<line x1="37.78" y1="317.20" x2="37.78" y2="326.50" stroke="#1f77b4" stroke-width="1.8" stroke-linecap="round"/>
<line x1="49.26" y1="315.69" x2="49.26" y2="324.99" stroke="#1f77b4" stroke-width="1.8" stroke-linecap="round"/>
<line x1="60.74" y1="314.17" x2="60.74" y2="323.47" stroke="#1f77b4" stroke-width="1.8" stroke-linecap="round"/>
<line x1="72.22" y1="312.66" x2="72.22" y2="321.96" stroke="#1f77b4" stroke-width="1.8" stroke-linecap="round"/>
<line x1="83.70" y1="311.14" x2="83.70" y2="320.44" stroke="#1f77b4" stroke-width="1.8" stroke-linecap="round"/>
<line x1="95.18" y1="309.63" x2="95.18" y2="318.93" stroke="#1f77b4" stroke-width="1.8" stroke-linecap="round"/>
<line x1="106.66" y1="308.11" x2="106.66" y2="317.41" stroke="#1f77b4" stroke-width="1.8" stroke-linecap="round"/>
<line x1="118.14" y1="306.59" x2="118.14" y2="315.89" stroke="#1f77b4" stroke-width="1.8" stroke-linecap="round"/>
<line x1="37.80" y1="321.70" x2="118.10" y2="311.10" stroke="#1f77b4" stroke-width="1.0"/>
<line x1="37.78" y1="276.91" x2="37.78" y2="288.51" stroke="#ff7f0e" stroke-width="1.8" stroke-linecap="round"/>
<line x1="49.26" y1="273.06" x2="49.26" y2="284.66" stroke="#ff7f0e" stroke-width="1.8" stroke-linecap="round"/>
<line x1="60.74" y1="269.22" x2="60.74" y2="280.82" stroke="#ff7f0e" stroke-width="1.8" stroke-linecap="round"/>
<line x1="72.22" y1="265.37" x2="72.22" y2="276.97" stroke="#ff7f0e" stroke-width="1.8" stroke-linecap="round"/>
<line x1="83.70" y1="261.52" x2="83.70" y2="273.12" stroke="#ff7f0e" stroke-width="1.8" stroke-linecap="round"/>
<line x1="95.18" y1="257.68" x2="95.18" y2="269.28" stroke="#ff7f0e" stroke-width="1.8" stroke-linecap="round"/>
<line x1="106.66" y1="253.83" x2="106.66" y2="265.43" stroke="#ff7f0e" stroke-width="1.8" stroke-linecap="round"/>
<line x1="118.14" y1="249.99" x2="118.14" y2="261.59" stroke="#ff7f0e" stroke-width="1.8" stroke-linecap="round"/>
<circle cx="94.50" cy="270.90" r="1.00" fill="#ff7f0e"/>
<line x1="37.80" y1="282.50" x2="118.10" y2="255.60" stroke="#ff7f0e" stroke-width="1.0"/>
<line x1="33.50" y1="244.40" x2="33.50" y2="332.00" stroke="#000" stroke-width="0.95"/>
<line x1="33.00" y1="331.50" x2="121.50" y2="331.50" stroke="#000" stroke-width="0.95"/>
<line x1="31.90" y1="316.50" x2="33.50" y2="316.50" stroke="#000" stroke-width="0.6"/>
<text x="30.30" y="318.98" font-size="7.31" text-anchor="end" textLength="15.36" lengthAdjust="spacingAndGlyphs">1.25</text>
<line x1="31.90" y1="300.77" x2="33.50" y2="300.77" stroke="#000" stroke-width="0.6"/>
<text x="30.30" y="303.26" font-size="7.31" text-anchor="end" textLength="15.36" lengthAdjust="spacingAndGlyphs">1.50</text>
<line x1="31.90" y1="285.05" x2="33.50" y2="285.05" stroke="#000" stroke-width="0.6"/>
<text x="30.30" y="287.53" font-size="7.31" text-anchor="end" textLength="15.36" lengthAdjust="spacingAndGlyphs">1.75</text>
<line x1="31.90" y1="269.32" x2="33.50" y2="269.32" stroke="#000" stroke-width="0.6"/>
<text x="30.30" y="271.81" font-size="7.31" text-anchor="end" textLength="15.36" lengthAdjust="spacingAndGlyphs">2.00</text>
<line x1="31.90" y1="253.60" x2="33.50" y2="253.60" stroke="#000" stroke-width="0.6"/>
<text x="30.30" y="256.08" font-size="7.31" text-anchor="end" textLength="15.36" lengthAdjust="spacingAndGlyphs">2.25</text>
<line x1="49.26" y1="331.60" x2="49.26" y2="333.20" stroke="#000" stroke-width="0.6"/>
<text x="49.26" y="340.60" font-size="7.31" text-anchor="middle" textLength="8.78" lengthAdjust="spacingAndGlyphs">10</text>
<line x1="72.22" y1="331.60" x2="72.22" y2="333.20" stroke="#000" stroke-width="0.6"/>
<text x="72.22" y="340.60" font-size="7.31" text-anchor="middle" textLength="8.78" lengthAdjust="spacingAndGlyphs">20</text>
<line x1="95.18" y1="331.60" x2="95.18" y2="333.20" stroke="#000" stroke-width="0.6"/>
<text x="95.18" y="340.60" font-size="7.31" text-anchor="middle" textLength="8.78" lengthAdjust="spacingAndGlyphs">30</text>
<line x1="118.14" y1="331.60" x2="118.14" y2="333.20" stroke="#000" stroke-width="0.6"/>
<text x="118.14" y="340.60" font-size="7.31" text-anchor="middle" textLength="8.78" lengthAdjust="spacingAndGlyphs">40</text>
<text x="77.90" y="349.50" font-size="7.53" text-anchor="middle" textLength="46.97" lengthAdjust="spacingAndGlyphs">Speed (cm/s)</text>
<text x="0" y="0" font-size="8.20" text-anchor="middle" textLength="60.20" lengthAdjust="spacingAndGlyphs" transform="translate(10.60,279.00) rotate(-90)">Total Fisher (a.u.)</text>
<text x="78.30" y="247.00" font-size="9.90" text-anchor="middle" textLength="23.40" lengthAdjust="spacingAndGlyphs" style="stroke:none">R1M2</text>
<text x="34.50" y="242.90" font-size="6.78" textLength="13.60" lengthAdjust="spacingAndGlyphs">×10</text>
<text x="49.00" y="240.60" font-size="5.09" textLength="6.10" lengthAdjust="spacingAndGlyphs">−1</text>
<circle cx="43.80" cy="253.40" r="1.20" fill="#1f77b4"/>
<text x="53.50" y="255.34" font-size="5.72" textLength="21.13" lengthAdjust="spacingAndGlyphs">Original</text>
<circle cx="43.80" cy="261.60" r="1.20" fill="#ff7f0e"/>
<text x="53.50" y="263.54" font-size="5.72" textLength="12.65" lengthAdjust="spacingAndGlyphs">IFGC</text>
<line x1="162.40" y1="314.77" x2="166.80" y2="302.36" stroke="#1a1a1a" stroke-width="0.7" stroke-dasharray="2.0 0.8"/>
<line x1="182.90" y1="319.99" x2="187.30" y2="312.90" stroke="#1a1a1a" stroke-width="0.7" stroke-dasharray="2.0 0.8"/>
<line x1="203.40" y1="330.24" x2="207.80" y2="328.56" stroke="#1a1a1a" stroke-width="0.7" stroke-dasharray="2.0 0.8"/>
<line x1="223.90" y1="278.43" x2="228.30" y2="254.98" stroke="#1a1a1a" stroke-width="0.7" stroke-dasharray="2.0 0.8"/>
<line x1="244.40" y1="296.16" x2="248.80" y2="283.05" stroke="#1a1a1a" stroke-width="0.7" stroke-dasharray="2.0 0.8"/>
<line x1="264.90" y1="324.82" x2="269.30" y2="322.75" stroke="#1a1a1a" stroke-width="0.7" stroke-dasharray="2.0 0.8"/>
<line x1="285.40" y1="304.92" x2="289.80" y2="296.94" stroke="#1a1a1a" stroke-width="0.7" stroke-dasharray="2.0 0.8"/>
<line x1="305.90" y1="304.23" x2="310.30" y2="293.10" stroke="#1a1a1a" stroke-width="0.7" stroke-dasharray="2.0 0.8"/>
<line x1="326.40" y1="324.82" x2="330.80" y2="322.75" stroke="#1a1a1a" stroke-width="0.7" stroke-dasharray="2.0 0.8"/>
<line x1="162.40" y1="314.28" x2="162.40" y2="315.26" stroke="#5f9ccb" stroke-width="0.8"/>
<line x1="159.00" y1="314.28" x2="165.80" y2="314.28" stroke="#5f9ccb" stroke-width="0.8"/>
<line x1="159.00" y1="315.26" x2="165.80" y2="315.26" stroke="#5f9ccb" stroke-width="0.8"/>
<circle cx="162.40" cy="314.77" r="1.85" fill="#1f77b4"/>
<line x1="166.80" y1="301.87" x2="166.80" y2="302.85" stroke="#fba35a" stroke-width="0.8"/>
<line x1="163.40" y1="301.87" x2="170.20" y2="301.87" stroke="#fba35a" stroke-width="0.8"/>
<line x1="163.40" y1="302.85" x2="170.20" y2="302.85" stroke="#fba35a" stroke-width="0.8"/>
<circle cx="166.80" cy="302.36" r="1.85" fill="#ff7f0e"/>
<line x1="182.90" y1="319.50" x2="182.90" y2="320.48" stroke="#5f9ccb" stroke-width="0.8"/>
<line x1="179.50" y1="319.50" x2="186.30" y2="319.50" stroke="#5f9ccb" stroke-width="0.8"/>
<line x1="179.50" y1="320.48" x2="186.30" y2="320.48" stroke="#5f9ccb" stroke-width="0.8"/>
<circle cx="182.90" cy="319.99" r="1.85" fill="#1f77b4"/>
<line x1="187.30" y1="312.41" x2="187.30" y2="313.39" stroke="#fba35a" stroke-width="0.8"/>
<line x1="183.90" y1="312.41" x2="190.70" y2="312.41" stroke="#fba35a" stroke-width="0.8"/>
<line x1="183.90" y1="313.39" x2="190.70" y2="313.39" stroke="#fba35a" stroke-width="0.8"/>
<circle cx="187.30" cy="312.90" r="1.85" fill="#ff7f0e"/>
<line x1="203.40" y1="329.84" x2="203.40" y2="330.63" stroke="#5f9ccb" stroke-width="0.8"/>
<line x1="200.00" y1="329.84" x2="206.80" y2="329.84" stroke="#5f9ccb" stroke-width="0.8"/>
<line x1="200.00" y1="330.63" x2="206.80" y2="330.63" stroke="#5f9ccb" stroke-width="0.8"/>
<circle cx="203.40" cy="330.24" r="1.85" fill="#1f77b4"/>
<line x1="207.80" y1="328.17" x2="207.80" y2="328.96" stroke="#fba35a" stroke-width="0.8"/>
<line x1="204.40" y1="328.17" x2="211.20" y2="328.17" stroke="#fba35a" stroke-width="0.8"/>
<line x1="204.40" y1="328.96" x2="211.20" y2="328.96" stroke="#fba35a" stroke-width="0.8"/>
<circle cx="207.80" cy="328.56" r="1.85" fill="#ff7f0e"/>
<line x1="223.90" y1="271.33" x2="223.90" y2="285.52" stroke="#5f9ccb" stroke-width="0.8"/>
<line x1="220.50" y1="271.33" x2="227.30" y2="271.33" stroke="#5f9ccb" stroke-width="0.8"/>
<line x1="220.50" y1="285.52" x2="227.30" y2="285.52" stroke="#5f9ccb" stroke-width="0.8"/>
<circle cx="223.90" cy="278.43" r="1.85" fill="#1f77b4"/>
<line x1="228.30" y1="247.00" x2="228.30" y2="262.96" stroke="#fba35a" stroke-width="0.8"/>
<line x1="224.90" y1="247.00" x2="231.70" y2="247.00" stroke="#fba35a" stroke-width="0.8"/>
<line x1="224.90" y1="262.96" x2="231.70" y2="262.96" stroke="#fba35a" stroke-width="0.8"/>
<circle cx="228.30" cy="254.98" r="1.85" fill="#ff7f0e"/>
<line x1="244.40" y1="295.17" x2="244.40" y2="297.14" stroke="#5f9ccb" stroke-width="0.8"/>
<line x1="241.00" y1="295.17" x2="247.80" y2="295.17" stroke="#5f9ccb" stroke-width="0.8"/>
<line x1="241.00" y1="297.14" x2="247.80" y2="297.14" stroke="#5f9ccb" stroke-width="0.8"/>
<circle cx="244.40" cy="296.16" r="1.85" fill="#1f77b4"/>
<line x1="248.80" y1="280.79" x2="248.80" y2="285.32" stroke="#fba35a" stroke-width="0.8"/>
<line x1="245.40" y1="280.79" x2="252.20" y2="280.79" stroke="#fba35a" stroke-width="0.8"/>
<line x1="245.40" y1="285.32" x2="252.20" y2="285.32" stroke="#fba35a" stroke-width="0.8"/>
<circle cx="248.80" cy="283.05" r="1.85" fill="#ff7f0e"/>
<line x1="264.90" y1="324.42" x2="264.90" y2="325.21" stroke="#5f9ccb" stroke-width="0.8"/>
<line x1="261.50" y1="324.42" x2="268.30" y2="324.42" stroke="#5f9ccb" stroke-width="0.8"/>
<line x1="261.50" y1="325.21" x2="268.30" y2="325.21" stroke="#5f9ccb" stroke-width="0.8"/>
<circle cx="264.90" cy="324.82" r="1.85" fill="#1f77b4"/>
<line x1="269.30" y1="322.36" x2="269.30" y2="323.14" stroke="#fba35a" stroke-width="0.8"/>
<line x1="265.90" y1="322.36" x2="272.70" y2="322.36" stroke="#fba35a" stroke-width="0.8"/>
<line x1="265.90" y1="323.14" x2="272.70" y2="323.14" stroke="#fba35a" stroke-width="0.8"/>
<circle cx="269.30" cy="322.75" r="1.85" fill="#ff7f0e"/>
<line x1="285.40" y1="304.53" x2="285.40" y2="305.32" stroke="#5f9ccb" stroke-width="0.8"/>
<line x1="282.00" y1="304.53" x2="288.80" y2="304.53" stroke="#5f9ccb" stroke-width="0.8"/>
<line x1="282.00" y1="305.32" x2="288.80" y2="305.32" stroke="#5f9ccb" stroke-width="0.8"/>
<circle cx="285.40" cy="304.92" r="1.85" fill="#1f77b4"/>
<line x1="289.80" y1="296.55" x2="289.80" y2="297.34" stroke="#fba35a" stroke-width="0.8"/>
<line x1="286.40" y1="296.55" x2="293.20" y2="296.55" stroke="#fba35a" stroke-width="0.8"/>
<line x1="286.40" y1="297.34" x2="293.20" y2="297.34" stroke="#fba35a" stroke-width="0.8"/>
<circle cx="289.80" cy="296.94" r="1.85" fill="#ff7f0e"/>
<line x1="305.90" y1="303.84" x2="305.90" y2="304.63" stroke="#5f9ccb" stroke-width="0.8"/>
<line x1="302.50" y1="303.84" x2="309.30" y2="303.84" stroke="#5f9ccb" stroke-width="0.8"/>
<line x1="302.50" y1="304.63" x2="309.30" y2="304.63" stroke="#5f9ccb" stroke-width="0.8"/>
<circle cx="305.90" cy="304.23" r="1.85" fill="#1f77b4"/>
<line x1="310.30" y1="292.71" x2="310.30" y2="293.50" stroke="#fba35a" stroke-width="0.8"/>
<line x1="306.90" y1="292.71" x2="313.70" y2="292.71" stroke="#fba35a" stroke-width="0.8"/>
<line x1="306.90" y1="293.50" x2="313.70" y2="293.50" stroke="#fba35a" stroke-width="0.8"/>
<circle cx="310.30" cy="293.10" r="1.85" fill="#ff7f0e"/>
<line x1="326.40" y1="324.42" x2="326.40" y2="325.21" stroke="#5f9ccb" stroke-width="0.8"/>
<line x1="323.00" y1="324.42" x2="329.80" y2="324.42" stroke="#5f9ccb" stroke-width="0.8"/>
<line x1="323.00" y1="325.21" x2="329.80" y2="325.21" stroke="#5f9ccb" stroke-width="0.8"/>
<circle cx="326.40" cy="324.82" r="1.85" fill="#1f77b4"/>
<line x1="330.80" y1="322.36" x2="330.80" y2="323.14" stroke="#fba35a" stroke-width="0.8"/>
<line x1="327.40" y1="322.36" x2="334.20" y2="322.36" stroke="#fba35a" stroke-width="0.8"/>
<line x1="327.40" y1="323.14" x2="334.20" y2="323.14" stroke="#fba35a" stroke-width="0.8"/>
<circle cx="330.80" cy="322.75" r="1.85" fill="#ff7f0e"/>
<line x1="154.50" y1="243.20" x2="154.50" y2="335.00" stroke="#000" stroke-width="0.95"/>
<line x1="154.00" y1="334.50" x2="339.10" y2="334.50" stroke="#000" stroke-width="0.95"/>
<line x1="152.90" y1="332.60" x2="154.30" y2="332.60" stroke="#000" stroke-width="0.6"/>
<text x="152.00" y="334.62" font-size="5.94" text-anchor="end" textLength="8.91" lengthAdjust="spacingAndGlyphs">0.0</text>
<line x1="152.90" y1="312.90" x2="154.30" y2="312.90" stroke="#000" stroke-width="0.6"/>
<text x="152.00" y="314.92" font-size="5.94" text-anchor="end" textLength="8.91" lengthAdjust="spacingAndGlyphs">0.2</text>
<line x1="152.90" y1="293.20" x2="154.30" y2="293.20" stroke="#000" stroke-width="0.6"/>
<text x="152.00" y="295.22" font-size="5.94" text-anchor="end" textLength="8.91" lengthAdjust="spacingAndGlyphs">0.4</text>
<line x1="152.90" y1="273.50" x2="154.30" y2="273.50" stroke="#000" stroke-width="0.6"/>
<text x="152.00" y="275.52" font-size="5.94" text-anchor="end" textLength="8.91" lengthAdjust="spacingAndGlyphs">0.6</text>
<line x1="152.90" y1="253.80" x2="154.30" y2="253.80" stroke="#000" stroke-width="0.6"/>
<text x="152.00" y="255.82" font-size="5.94" text-anchor="end" textLength="8.91" lengthAdjust="spacingAndGlyphs">0.8</text>
<line x1="164.60" y1="334.30" x2="164.60" y2="335.70" stroke="#000" stroke-width="0.6"/>
<text x="163.90" y="341.90" font-size="6.20" text-anchor="middle" textLength="16.56" lengthAdjust="spacingAndGlyphs">R1M1</text>
<text x="166.00" y="348.73" font-size="6.20" text-anchor="middle" textLength="8.77" lengthAdjust="spacingAndGlyphs">***</text>
<line x1="185.10" y1="334.30" x2="185.10" y2="335.70" stroke="#000" stroke-width="0.6"/>
<text x="184.40" y="341.90" font-size="6.20" text-anchor="middle" textLength="16.56" lengthAdjust="spacingAndGlyphs">R1M2</text>
<text x="186.50" y="348.73" font-size="6.20" text-anchor="middle" textLength="8.77" lengthAdjust="spacingAndGlyphs">***</text>
<line x1="205.60" y1="334.30" x2="205.60" y2="335.70" stroke="#000" stroke-width="0.6"/>
<text x="204.90" y="341.90" font-size="6.20" text-anchor="middle" textLength="16.56" lengthAdjust="spacingAndGlyphs">R1M3</text>
<text x="207.00" y="348.73" font-size="6.20" text-anchor="middle" textLength="8.77" lengthAdjust="spacingAndGlyphs">***</text>
<line x1="226.10" y1="334.30" x2="226.10" y2="335.70" stroke="#000" stroke-width="0.6"/>
<text x="225.40" y="341.90" font-size="6.20" text-anchor="middle" textLength="16.56" lengthAdjust="spacingAndGlyphs">R2M1</text>
<text x="227.50" y="348.73" font-size="6.20" text-anchor="middle" textLength="8.77" lengthAdjust="spacingAndGlyphs">***</text>
<line x1="246.60" y1="334.30" x2="246.60" y2="335.70" stroke="#000" stroke-width="0.6"/>
<text x="245.90" y="341.90" font-size="6.20" text-anchor="middle" textLength="16.56" lengthAdjust="spacingAndGlyphs">R2M2</text>
<text x="248.00" y="348.73" font-size="6.20" text-anchor="middle" textLength="8.77" lengthAdjust="spacingAndGlyphs">***</text>
<line x1="267.10" y1="334.30" x2="267.10" y2="335.70" stroke="#000" stroke-width="0.6"/>
<text x="266.40" y="341.90" font-size="6.20" text-anchor="middle" textLength="16.56" lengthAdjust="spacingAndGlyphs">R2M3</text>
<text x="268.50" y="348.73" font-size="6.20" text-anchor="middle" textLength="8.77" lengthAdjust="spacingAndGlyphs">***</text>
<line x1="287.60" y1="334.30" x2="287.60" y2="335.70" stroke="#000" stroke-width="0.6"/>
<text x="286.90" y="341.90" font-size="6.20" text-anchor="middle" textLength="16.20" lengthAdjust="spacingAndGlyphs">S1M1</text>
<text x="289.00" y="348.73" font-size="6.20" text-anchor="middle" textLength="8.77" lengthAdjust="spacingAndGlyphs">***</text>
<line x1="308.10" y1="334.30" x2="308.10" y2="335.70" stroke="#000" stroke-width="0.6"/>
<text x="307.40" y="341.90" font-size="6.20" text-anchor="middle" textLength="17.10" lengthAdjust="spacingAndGlyphs">Q1M1</text>
<text x="309.50" y="348.73" font-size="6.20" text-anchor="middle" textLength="8.77" lengthAdjust="spacingAndGlyphs">***</text>
<line x1="328.60" y1="334.30" x2="328.60" y2="335.70" stroke="#000" stroke-width="0.6"/>
<text x="327.90" y="341.90" font-size="6.20" text-anchor="middle" textLength="17.10" lengthAdjust="spacingAndGlyphs">Q1M2</text>
<text x="330.00" y="348.73" font-size="6.20" text-anchor="middle" textLength="8.77" lengthAdjust="spacingAndGlyphs">***</text>
<text x="0" y="0" font-size="6.40" text-anchor="middle" textLength="95.40" lengthAdjust="spacingAndGlyphs" transform="translate(139.00,291.20) rotate(-90)">Speed-Averaged Total Fisher (a.u.)</text>
<text x="343.20" y="229.30" font-size="10.40" textLength="5.60" lengthAdjust="spacingAndGlyphs">E</text>
<polygon points="381.90,301.50 454.50,288.50 454.50,304.80 381.90,321.50" fill="#1f77b4" fill-opacity="0.2"/>
<polygon points="381.90,278.50 454.50,250.00 454.50,268.30 381.90,300.80" fill="#ff7f0e" fill-opacity="0.22"/>
<line x1="381.93" y1="306.40" x2="381.93" y2="321.30" stroke="#1f77b4" stroke-width="1.9" stroke-linecap="round"/>
<line x1="392.35" y1="300.50" x2="392.35" y2="315.40" stroke="#1f77b4" stroke-width="1.9" stroke-linecap="round"/>
<line x1="402.77" y1="301.70" x2="402.77" y2="314.20" stroke="#1f77b4" stroke-width="1.9" stroke-linecap="round"/>
<line x1="413.20" y1="298.20" x2="413.20" y2="313.00" stroke="#1f77b4" stroke-width="1.9" stroke-linecap="round"/>
<line x1="423.62" y1="298.20" x2="423.62" y2="310.70" stroke="#1f77b4" stroke-width="1.9" stroke-linecap="round"/>
<line x1="434.05" y1="295.80" x2="434.05" y2="309.50" stroke="#1f77b4" stroke-width="1.9" stroke-linecap="round"/>
<line x1="444.48" y1="293.40" x2="444.48" y2="308.30" stroke="#1f77b4" stroke-width="1.9" stroke-linecap="round"/>
<line x1="454.90" y1="289.90" x2="454.90" y2="303.60" stroke="#1f77b4" stroke-width="1.9" stroke-linecap="round"/>
<line x1="381.90" y1="312.00" x2="454.50" y2="298.00" stroke="#1f77b4" stroke-width="1.0"/>
<line x1="381.93" y1="286.40" x2="381.93" y2="300.10" stroke="#ff7f0e" stroke-width="1.9" stroke-linecap="round"/>
<line x1="392.35" y1="273.40" x2="392.35" y2="293.00" stroke="#ff7f0e" stroke-width="1.9" stroke-linecap="round"/>
<line x1="402.77" y1="274.60" x2="402.77" y2="287.20" stroke="#ff7f0e" stroke-width="1.9" stroke-linecap="round"/>
<line x1="413.20" y1="267.60" x2="413.20" y2="282.40" stroke="#ff7f0e" stroke-width="1.9" stroke-linecap="round"/>
<line x1="423.62" y1="265.20" x2="423.62" y2="278.90" stroke="#ff7f0e" stroke-width="1.9" stroke-linecap="round"/>
<line x1="434.05" y1="261.70" x2="434.05" y2="274.20" stroke="#ff7f0e" stroke-width="1.9" stroke-linecap="round"/>
<line x1="444.48" y1="257.00" x2="444.48" y2="269.50" stroke="#ff7f0e" stroke-width="1.9" stroke-linecap="round"/>
<line x1="454.90" y1="251.10" x2="454.90" y2="264.80" stroke="#ff7f0e" stroke-width="1.9" stroke-linecap="round"/>
<line x1="381.90" y1="289.90" x2="454.50" y2="258.80" stroke="#ff7f0e" stroke-width="1.0"/>
<line x1="378.50" y1="245.60" x2="378.50" y2="326.00" stroke="#000" stroke-width="0.95"/>
<line x1="378.00" y1="325.50" x2="458.30" y2="325.50" stroke="#000" stroke-width="0.95"/>
<line x1="376.80" y1="313.15" x2="378.40" y2="313.15" stroke="#000" stroke-width="0.6"/>
<text x="375.30" y="315.35" font-size="6.47" text-anchor="end" textLength="13.58" lengthAdjust="spacingAndGlyphs">0.65</text>
<line x1="376.80" y1="290.60" x2="378.40" y2="290.60" stroke="#000" stroke-width="0.6"/>
<text x="375.30" y="292.80" font-size="6.47" text-anchor="end" textLength="13.58" lengthAdjust="spacingAndGlyphs">0.70</text>
<line x1="376.80" y1="268.05" x2="378.40" y2="268.05" stroke="#000" stroke-width="0.6"/>
<text x="375.30" y="270.25" font-size="6.47" text-anchor="end" textLength="13.58" lengthAdjust="spacingAndGlyphs">0.75</text>
<line x1="392.35" y1="325.00" x2="392.35" y2="326.60" stroke="#000" stroke-width="0.6"/>
<text x="392.35" y="333.00" font-size="6.47" text-anchor="middle" textLength="7.76" lengthAdjust="spacingAndGlyphs">10</text>
<line x1="413.20" y1="325.00" x2="413.20" y2="326.60" stroke="#000" stroke-width="0.6"/>
<text x="413.20" y="333.00" font-size="6.47" text-anchor="middle" textLength="7.76" lengthAdjust="spacingAndGlyphs">20</text>
<line x1="434.05" y1="325.00" x2="434.05" y2="326.60" stroke="#000" stroke-width="0.6"/>
<text x="434.05" y="333.00" font-size="6.47" text-anchor="middle" textLength="7.76" lengthAdjust="spacingAndGlyphs">30</text>
<line x1="454.90" y1="325.00" x2="454.90" y2="326.60" stroke="#000" stroke-width="0.6"/>
<text x="454.90" y="333.00" font-size="6.47" text-anchor="middle" textLength="7.76" lengthAdjust="spacingAndGlyphs">40</text>
<text x="418.50" y="341.20" font-size="6.68" text-anchor="middle" textLength="41.67" lengthAdjust="spacingAndGlyphs">Speed (cm/s)</text>
<text x="0" y="0" font-size="7.00" text-anchor="middle" textLength="85.40" lengthAdjust="spacingAndGlyphs" transform="translate(358.40,287.20) rotate(-90)">Spatial Coding Accuracy (SCA)</text>
<text x="424.10" y="246.80" font-size="9.90" text-anchor="middle" textLength="23.40" lengthAdjust="spacingAndGlyphs" style="stroke:none">R1M2</text>
<circle cx="387.60" cy="252.60" r="1.20" fill="#ff7f0e"/>
<text x="396.20" y="254.42" font-size="5.35" textLength="11.83" lengthAdjust="spacingAndGlyphs">IFGC</text>
<circle cx="387.60" cy="259.50" r="1.20" fill="#1f77b4"/>
<text x="396.20" y="261.32" font-size="5.35" textLength="19.76" lengthAdjust="spacingAndGlyphs">Original</text>
<line x1="507.55" y1="302.67" x2="512.25" y2="275.21" stroke="#1a1a1a" stroke-width="0.7" stroke-dasharray="2.0 0.8"/>
<line x1="528.09" y1="312.51" x2="532.79" y2="292.82" stroke="#1a1a1a" stroke-width="0.7" stroke-dasharray="2.0 0.8"/>
<line x1="548.63" y1="334.00" x2="553.33" y2="330.42" stroke="#1a1a1a" stroke-width="0.7" stroke-dasharray="2.0 0.8"/>
<line x1="569.17" y1="277.90" x2="573.87" y2="253.43" stroke="#1a1a1a" stroke-width="0.7" stroke-dasharray="2.0 0.8"/>
<line x1="589.71" y1="285.66" x2="594.41" y2="268.35" stroke="#1a1a1a" stroke-width="0.7" stroke-dasharray="2.0 0.8"/>
<line x1="630.79" y1="276.11" x2="635.49" y2="263.28" stroke="#1a1a1a" stroke-width="0.7" stroke-dasharray="2.0 0.8"/>
<line x1="651.33" y1="291.92" x2="656.03" y2="276.71" stroke="#1a1a1a" stroke-width="0.7" stroke-dasharray="2.0 0.8"/>
<line x1="507.55" y1="300.88" x2="507.55" y2="304.46" stroke="#5f9ccb" stroke-width="0.8"/>
<line x1="504.35" y1="300.88" x2="510.75" y2="300.88" stroke="#5f9ccb" stroke-width="0.8"/>
<line x1="504.35" y1="304.46" x2="510.75" y2="304.46" stroke="#5f9ccb" stroke-width="0.8"/>
<circle cx="507.55" cy="302.67" r="1.80" fill="#1f77b4"/>
<line x1="512.25" y1="273.42" x2="512.25" y2="277.00" stroke="#fba35a" stroke-width="0.8"/>
<line x1="509.05" y1="273.42" x2="515.45" y2="273.42" stroke="#fba35a" stroke-width="0.8"/>
<line x1="509.05" y1="277.00" x2="515.45" y2="277.00" stroke="#fba35a" stroke-width="0.8"/>
<circle cx="512.25" cy="275.21" r="1.80" fill="#ff7f0e"/>
<line x1="528.09" y1="311.02" x2="528.09" y2="314.01" stroke="#5f9ccb" stroke-width="0.8"/>
<line x1="524.89" y1="311.02" x2="531.29" y2="311.02" stroke="#5f9ccb" stroke-width="0.8"/>
<line x1="524.89" y1="314.01" x2="531.29" y2="314.01" stroke="#5f9ccb" stroke-width="0.8"/>
<circle cx="528.09" cy="312.51" r="1.80" fill="#1f77b4"/>
<line x1="532.79" y1="290.73" x2="532.79" y2="294.91" stroke="#fba35a" stroke-width="0.8"/>
<line x1="529.59" y1="290.73" x2="535.99" y2="290.73" stroke="#fba35a" stroke-width="0.8"/>
<line x1="529.59" y1="294.91" x2="535.99" y2="294.91" stroke="#fba35a" stroke-width="0.8"/>
<circle cx="532.79" cy="292.82" r="1.80" fill="#ff7f0e"/>
<line x1="548.63" y1="332.51" x2="548.63" y2="335.49" stroke="#5f9ccb" stroke-width="0.8"/>
<line x1="545.43" y1="332.51" x2="551.83" y2="332.51" stroke="#5f9ccb" stroke-width="0.8"/>
<line x1="545.43" y1="335.49" x2="551.83" y2="335.49" stroke="#5f9ccb" stroke-width="0.8"/>
<circle cx="548.63" cy="334.00" r="1.80" fill="#1f77b4"/>
<line x1="553.33" y1="328.63" x2="553.33" y2="332.21" stroke="#fba35a" stroke-width="0.8"/>
<line x1="550.13" y1="328.63" x2="556.53" y2="328.63" stroke="#fba35a" stroke-width="0.8"/>
<line x1="550.13" y1="332.21" x2="556.53" y2="332.21" stroke="#fba35a" stroke-width="0.8"/>
<circle cx="553.33" cy="330.42" r="1.80" fill="#ff7f0e"/>
<line x1="569.17" y1="275.51" x2="569.17" y2="280.29" stroke="#5f9ccb" stroke-width="0.8"/>
<line x1="565.97" y1="275.51" x2="572.37" y2="275.51" stroke="#5f9ccb" stroke-width="0.8"/>
<line x1="565.97" y1="280.29" x2="572.37" y2="280.29" stroke="#5f9ccb" stroke-width="0.8"/>
<circle cx="569.17" cy="277.90" r="1.80" fill="#1f77b4"/>
<line x1="573.87" y1="251.34" x2="573.87" y2="255.52" stroke="#fba35a" stroke-width="0.8"/>
<line x1="570.67" y1="251.34" x2="577.07" y2="251.34" stroke="#fba35a" stroke-width="0.8"/>
<line x1="570.67" y1="255.52" x2="577.07" y2="255.52" stroke="#fba35a" stroke-width="0.8"/>
<circle cx="573.87" cy="253.43" r="1.80" fill="#ff7f0e"/>
<line x1="589.71" y1="283.57" x2="589.71" y2="287.75" stroke="#5f9ccb" stroke-width="0.8"/>
<line x1="586.51" y1="283.57" x2="592.91" y2="283.57" stroke="#5f9ccb" stroke-width="0.8"/>
<line x1="586.51" y1="287.75" x2="592.91" y2="287.75" stroke="#5f9ccb" stroke-width="0.8"/>
<circle cx="589.71" cy="285.66" r="1.80" fill="#1f77b4"/>
<line x1="594.41" y1="266.56" x2="594.41" y2="270.14" stroke="#fba35a" stroke-width="0.8"/>
<line x1="591.21" y1="266.56" x2="597.61" y2="266.56" stroke="#fba35a" stroke-width="0.8"/>
<line x1="591.21" y1="270.14" x2="597.61" y2="270.14" stroke="#fba35a" stroke-width="0.8"/>
<circle cx="594.41" cy="268.35" r="1.80" fill="#ff7f0e"/>
<line x1="610.25" y1="301.17" x2="610.25" y2="304.76" stroke="#5f9ccb" stroke-width="0.8"/>
<line x1="607.05" y1="301.17" x2="613.45" y2="301.17" stroke="#5f9ccb" stroke-width="0.8"/>
<line x1="607.05" y1="304.76" x2="613.45" y2="304.76" stroke="#5f9ccb" stroke-width="0.8"/>
<circle cx="610.25" cy="302.96" r="1.80" fill="#1f77b4"/>
<line x1="614.95" y1="303.56" x2="614.95" y2="307.74" stroke="#fba35a" stroke-width="0.8"/>
<line x1="611.75" y1="303.56" x2="618.15" y2="303.56" stroke="#fba35a" stroke-width="0.8"/>
<line x1="611.75" y1="307.74" x2="618.15" y2="307.74" stroke="#fba35a" stroke-width="0.8"/>
<circle cx="614.95" cy="305.65" r="1.80" fill="#ff7f0e"/>
<line x1="630.79" y1="274.62" x2="630.79" y2="277.60" stroke="#5f9ccb" stroke-width="0.8"/>
<line x1="627.59" y1="274.62" x2="633.99" y2="274.62" stroke="#5f9ccb" stroke-width="0.8"/>
<line x1="627.59" y1="277.60" x2="633.99" y2="277.60" stroke="#5f9ccb" stroke-width="0.8"/>
<circle cx="630.79" cy="276.11" r="1.80" fill="#1f77b4"/>
<line x1="635.49" y1="261.79" x2="635.49" y2="264.77" stroke="#fba35a" stroke-width="0.8"/>
<line x1="632.29" y1="261.79" x2="638.69" y2="261.79" stroke="#fba35a" stroke-width="0.8"/>
<line x1="632.29" y1="264.77" x2="638.69" y2="264.77" stroke="#fba35a" stroke-width="0.8"/>
<circle cx="635.49" cy="263.28" r="1.80" fill="#ff7f0e"/>
<line x1="651.33" y1="290.13" x2="651.33" y2="293.71" stroke="#5f9ccb" stroke-width="0.8"/>
<line x1="648.13" y1="290.13" x2="654.53" y2="290.13" stroke="#5f9ccb" stroke-width="0.8"/>
<line x1="648.13" y1="293.71" x2="654.53" y2="293.71" stroke="#5f9ccb" stroke-width="0.8"/>
<circle cx="651.33" cy="291.92" r="1.80" fill="#1f77b4"/>
<line x1="656.03" y1="274.92" x2="656.03" y2="278.50" stroke="#fba35a" stroke-width="0.8"/>
<line x1="652.83" y1="274.92" x2="659.23" y2="274.92" stroke="#fba35a" stroke-width="0.8"/>
<line x1="652.83" y1="278.50" x2="659.23" y2="278.50" stroke="#fba35a" stroke-width="0.8"/>
<circle cx="656.03" cy="276.71" r="1.80" fill="#ff7f0e"/>
<line x1="671.87" y1="306.84" x2="671.87" y2="309.23" stroke="#5f9ccb" stroke-width="0.8"/>
<line x1="668.67" y1="306.84" x2="675.07" y2="306.84" stroke="#5f9ccb" stroke-width="0.8"/>
<line x1="668.67" y1="309.23" x2="675.07" y2="309.23" stroke="#5f9ccb" stroke-width="0.8"/>
<circle cx="671.87" cy="308.04" r="1.80" fill="#1f77b4"/>
<line x1="676.57" y1="305.95" x2="676.57" y2="308.34" stroke="#fba35a" stroke-width="0.8"/>
<line x1="673.37" y1="305.95" x2="679.77" y2="305.95" stroke="#fba35a" stroke-width="0.8"/>
<line x1="673.37" y1="308.34" x2="679.77" y2="308.34" stroke="#fba35a" stroke-width="0.8"/>
<circle cx="676.57" cy="307.14" r="1.80" fill="#ff7f0e"/>
<line x1="499.50" y1="247.70" x2="499.50" y2="340.00" stroke="#000" stroke-width="0.95"/>
<line x1="499.00" y1="339.50" x2="685.00" y2="339.50" stroke="#000" stroke-width="0.95"/>
<line x1="498.30" y1="333.70" x2="499.70" y2="333.70" stroke="#000" stroke-width="0.6"/>
<text x="497.20" y="335.86" font-size="6.36" text-anchor="end" textLength="13.36" lengthAdjust="spacingAndGlyphs">0.60</text>
<line x1="498.30" y1="318.78" x2="499.70" y2="318.78" stroke="#000" stroke-width="0.6"/>
<text x="497.20" y="320.94" font-size="6.36" text-anchor="end" textLength="13.36" lengthAdjust="spacingAndGlyphs">0.65</text>
<line x1="498.30" y1="303.86" x2="499.70" y2="303.86" stroke="#000" stroke-width="0.6"/>
<text x="497.20" y="306.02" font-size="6.36" text-anchor="end" textLength="13.36" lengthAdjust="spacingAndGlyphs">0.70</text>
<line x1="498.30" y1="288.94" x2="499.70" y2="288.94" stroke="#000" stroke-width="0.6"/>
<text x="497.20" y="291.10" font-size="6.36" text-anchor="end" textLength="13.36" lengthAdjust="spacingAndGlyphs">0.75</text>
<line x1="498.30" y1="274.02" x2="499.70" y2="274.02" stroke="#000" stroke-width="0.6"/>
<text x="497.20" y="276.18" font-size="6.36" text-anchor="end" textLength="13.36" lengthAdjust="spacingAndGlyphs">0.80</text>
<line x1="498.30" y1="259.10" x2="499.70" y2="259.10" stroke="#000" stroke-width="0.6"/>
<text x="497.20" y="261.26" font-size="6.36" text-anchor="end" textLength="13.36" lengthAdjust="spacingAndGlyphs">0.85</text>
<line x1="509.90" y1="339.00" x2="509.90" y2="340.40" stroke="#000" stroke-width="0.6"/>
<text x="509.20" y="346.60" font-size="6.20" text-anchor="middle" textLength="16.56" lengthAdjust="spacingAndGlyphs">R1M1</text>
<text x="511.30" y="354.03" font-size="6.20" text-anchor="middle" textLength="8.77" lengthAdjust="spacingAndGlyphs">***</text>
<line x1="530.44" y1="339.00" x2="530.44" y2="340.40" stroke="#000" stroke-width="0.6"/>
<text x="529.74" y="346.60" font-size="6.20" text-anchor="middle" textLength="16.56" lengthAdjust="spacingAndGlyphs">R1M2</text>
<text x="531.84" y="354.03" font-size="6.20" text-anchor="middle" textLength="8.77" lengthAdjust="spacingAndGlyphs">***</text>
<line x1="550.98" y1="339.00" x2="550.98" y2="340.40" stroke="#000" stroke-width="0.6"/>
<text x="550.28" y="346.60" font-size="6.20" text-anchor="middle" textLength="16.56" lengthAdjust="spacingAndGlyphs">R1M3</text>
<text x="552.38" y="354.03" font-size="6.20" text-anchor="middle" textLength="8.77" lengthAdjust="spacingAndGlyphs">***</text>
<line x1="571.52" y1="339.00" x2="571.52" y2="340.40" stroke="#000" stroke-width="0.6"/>
<text x="570.82" y="346.60" font-size="6.20" text-anchor="middle" textLength="16.56" lengthAdjust="spacingAndGlyphs">R2M1</text>
<text x="572.92" y="354.03" font-size="6.20" text-anchor="middle" textLength="8.77" lengthAdjust="spacingAndGlyphs">***</text>
<line x1="592.06" y1="339.00" x2="592.06" y2="340.40" stroke="#000" stroke-width="0.6"/>
<text x="591.36" y="346.60" font-size="6.20" text-anchor="middle" textLength="16.56" lengthAdjust="spacingAndGlyphs">R2M2</text>
<text x="593.46" y="354.03" font-size="6.20" text-anchor="middle" textLength="8.77" lengthAdjust="spacingAndGlyphs">***</text>
<line x1="612.60" y1="339.00" x2="612.60" y2="340.40" stroke="#000" stroke-width="0.6"/>
<text x="611.90" y="346.60" font-size="6.20" text-anchor="middle" textLength="16.56" lengthAdjust="spacingAndGlyphs">R2M3</text>
<text x="614.00" y="352.53" font-size="6.20" text-anchor="middle" textLength="8.09" lengthAdjust="spacingAndGlyphs">NS</text>
<line x1="633.14" y1="339.00" x2="633.14" y2="340.40" stroke="#000" stroke-width="0.6"/>
<text x="632.44" y="346.60" font-size="6.20" text-anchor="middle" textLength="16.20" lengthAdjust="spacingAndGlyphs">S1M1</text>
<text x="634.54" y="354.03" font-size="6.20" text-anchor="middle" textLength="8.77" lengthAdjust="spacingAndGlyphs">***</text>
<line x1="653.68" y1="339.00" x2="653.68" y2="340.40" stroke="#000" stroke-width="0.6"/>
<text x="652.98" y="346.60" font-size="6.20" text-anchor="middle" textLength="17.10" lengthAdjust="spacingAndGlyphs">Q1M1</text>
<text x="655.08" y="354.03" font-size="6.20" text-anchor="middle" textLength="8.77" lengthAdjust="spacingAndGlyphs">***</text>
<line x1="674.22" y1="339.00" x2="674.22" y2="340.40" stroke="#000" stroke-width="0.6"/>
<text x="673.52" y="346.60" font-size="6.20" text-anchor="middle" textLength="17.10" lengthAdjust="spacingAndGlyphs">Q1M2</text>
<text x="675.62" y="352.53" font-size="6.20" text-anchor="middle" textLength="8.09" lengthAdjust="spacingAndGlyphs">NS</text>
<text x="0" y="0" font-size="6.50" text-anchor="middle" textLength="64.60" lengthAdjust="spacingAndGlyphs" transform="translate(481.40,293.40) rotate(-90)">Speed-Averaged SCA</text>
</svg>
</body></html>
